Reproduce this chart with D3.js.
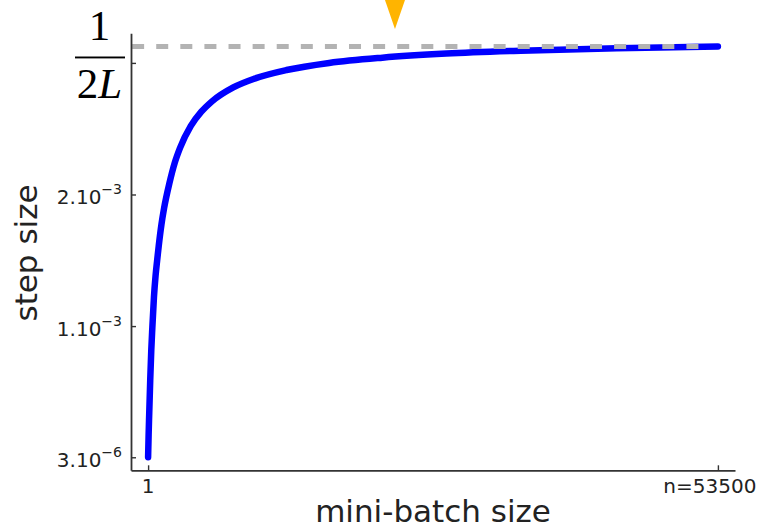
<!DOCTYPE html>
<html>
<head>
<meta charset="utf-8">
<script src="https://cdn.jsdelivr.net/npm/d3@7"></script>
<style>
  body { margin: 0; background: #fff; }
  svg { display: block; }
</style>
</head>
<body>
<svg id="chart" width="764" height="529"></svg>
<script>
// Step size as a function of the mini-batch size
const batchSizes = [1, 50, 100, 200, 300, 400, 550, 700, 850, 1000, 1250, 1500, 2000,
                    2500, 3000, 4000, 5000, 6000, 8000, 10000, 13000, 17000, 22000,
                    28000, 35000, 44000, 53500];
const stepSizes = [3.0e-6, 1.75e-4, 3.2e-4, 5.9e-4, 8.2e-4, 9.9e-4, 1.22e-3, 1.38e-3,
                   1.50e-3, 1.61e-3, 1.77e-3, 1.895e-3, 2.085e-3, 2.24e-3, 2.354e-3,
                   2.519e-3, 2.629e-3, 2.708e-3, 2.814e-3, 2.881e-3, 2.946e-3, 3.000e-3,
                   3.040e-3, 3.071e-3, 3.093e-3, 3.112e-3, 3.125e-3];

// Upper bound 1/(2L) and its dashed reference line extent (in batch units)
const halfInvL = 0.003125;
const refLineBatch = [-1500, 52300];

// Optimal mini-batch marker
const optimalBatch = [23180];

// Ticks
const xTickValues = [1, 53500];
const xTickLabels = ["1", "n=53500"];
const yTickValues = [3e-6, 1e-3, 2e-3, 3e-3];
const yTickMantissa = ["3.10", "1.10", "2.10", null];
const yTickExponent = ["\u22126", "\u22123", "\u22123", null];

const svg = d3.select("#chart");
const x = d3.scaleLinear().domain([-1605, 55105]).range([131, 735]);
const y = d3.scaleLinear().domain([-9.6e-5, 3.225e-3]).range([470.3, 33.3]);

const axisColor = "#333";
const textColor = "#222";
const font = "DejaVu Sans, sans-serif";

// Curve
const line = d3.line()
  .x((d, i) => x(batchSizes[i]))
  .y(d => y(d))
  .curve(d3.curveMonotoneX);

svg.append("path")
  .datum(stepSizes)
  .attr("d", line)
  .attr("fill", "none")
  .attr("stroke", "#0000ff")
  .attr("stroke-width", 6.5)
  .attr("stroke-linecap", "round")
  .attr("stroke-linejoin", "round");

// Dashed 1/(2L) reference line
svg.append("line")
  .attr("x1", x(refLineBatch[0]))
  .attr("x2", x(refLineBatch[1]))
  .attr("y1", y(halfInvL))
  .attr("y2", y(halfInvL))
  .attr("stroke", "#b3b3b3")
  .attr("stroke-width", 5)
  .attr("stroke-dasharray", "12 12.1");

// Axes
const yAxis = d3.axisLeft(y)
  .tickValues(yTickValues)
  .tickSizeInner(-5)
  .tickSizeOuter(0)
  .tickFormat("");
const xAxis = d3.axisBottom(x)
  .tickValues(xTickValues)
  .tickSizeInner(-5)
  .tickSizeOuter(0)
  .tickFormat("");

const gy = svg.append("g").attr("transform", "translate(131,0)").call(yAxis);
const gx = svg.append("g").attr("transform", "translate(0,470.3)").call(xAxis);
[gy, gx].forEach(g => {
  g.select(".domain").attr("stroke", axisColor).attr("stroke-width", 1.8);
  g.selectAll(".tick line").attr("stroke", axisColor).attr("stroke-width", 1.4);
});

// Y tick labels with exponents
yTickValues.forEach((v, i) => {
  if (!yTickMantissa[i]) return;
  const t = svg.append("text")
    .attr("x", 122)
    .attr("y", y(v) + 9.5)
    .attr("text-anchor", "end")
    .attr("font-family", font)
    .attr("font-size", 20)
    .attr("fill", textColor);
  t.append("tspan").text(yTickMantissa[i]);
  t.append("tspan").attr("dy", -10).attr("font-size", 14).text(yTickExponent[i]);
});

// 1/(2L) label on the top tick
const fy = y(yTickValues[3]);
const frac = svg.append("g").attr("fill", "#000")
  .attr("font-family", "Liberation Serif, serif").attr("font-size", 43);
frac.append("text").attr("x", 99.5).attr("y", fy - 23).attr("text-anchor", "middle").text("1");
frac.append("rect").attr("x", 75).attr("y", fy - 6.4).attr("width", 50).attr("height", 1.9);
const den = frac.append("text").attr("x", 99.5).attr("y", fy + 35).attr("text-anchor", "middle");
den.append("tspan").text("2");
den.append("tspan").attr("font-style", "italic").text("L");

// X tick labels
svg.append("text")
  .attr("x", x(xTickValues[0]))
  .attr("y", 493)
  .attr("text-anchor", "middle")
  .attr("font-family", font).attr("font-size", 20).attr("fill", textColor)
  .text(xTickLabels[0]);
svg.append("text")
  .attr("x", x(xTickValues[1]) - 8)
  .attr("y", 493)
  .attr("text-anchor", "middle")
  .attr("font-family", font).attr("font-size", 20).attr("fill", textColor)
  .text(xTickLabels[1]);

// Axis titles
svg.append("text")
  .attr("x", 433).attr("y", 521.5)
  .attr("text-anchor", "middle")
  .attr("font-family", font).attr("font-size", 31).attr("fill", textColor)
  .text("mini-batch size");
svg.append("text")
  .attr("transform", "translate(37,253) rotate(-90)")
  .attr("text-anchor", "middle")
  .attr("font-family", font).attr("font-size", 31).attr("fill", textColor)
  .text("step size");

// Optimal mini-batch marker (downward triangle at the top)
svg.selectAll(".marker")
  .data(optimalBatch)
  .join("path")
  .attr("class", "marker")
  .attr("d", d => {
    const cx = x(d);
    return `M${cx - 10.7},-2 L${cx + 10.7},-2 L${cx},29 Z`;
  })
  .attr("fill", "#ffb400");
</script>
</body>
</html>
